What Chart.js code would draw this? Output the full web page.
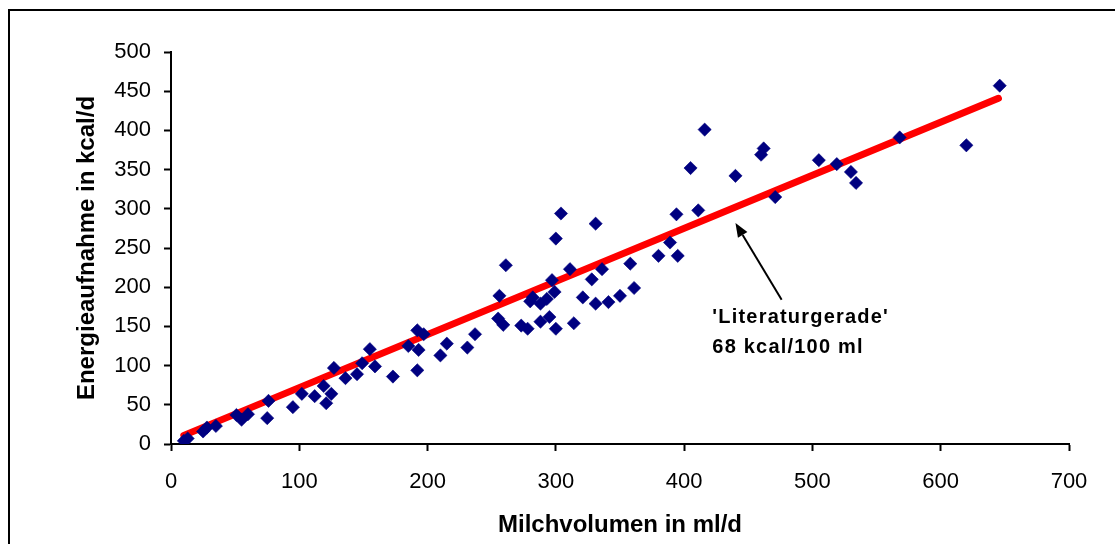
<!DOCTYPE html>
<html>
<head>
<meta charset="utf-8">
<script src="https://cdn.jsdelivr.net/npm/chart.js@4.4.1/dist/chart.umd.min.js"></script>
<style>
  html, body { margin: 0; padding: 0; background: #fff; overflow: hidden; }
  #frame { position: absolute; left: 8px; top: 9px; width: 1200px; height: 600px; border: 2px solid #000; }
  #myChart { position: absolute; left: 0; top: 0; }
</style>
</head>
<body>
<div id="frame"></div>
<canvas id="myChart" width="1115" height="544"></canvas>
<script>
// measured points: milk volume (ml/d) vs energy intake (kcal/d)
let milkVol = [10, 13, 25, 28, 35, 51, 55, 60, 75, 76, 95, 102, 112, 119, 121, 125, 127, 136, 145, 149,
  155, 159, 173, 185, 192, 193, 192, 197, 210, 215, 231, 237, 256, 261, 255, 259, 273, 278, 280, 282,
  288, 293, 288, 295, 300, 297, 299, 300, 304, 311, 314, 321, 328, 331, 331, 336, 341, 350, 358, 361,
  380, 389, 395, 394, 411, 405, 416, 440, 462, 460, 471, 505, 519, 530, 534, 568, 620, 646];
let energy = [4, 7, 16, 21, 23, 37, 31, 38, 33, 55, 47, 64, 61, 74, 52, 64, 97, 84, 89, 103,
  121, 99, 86, 125, 145, 120, 94, 140, 113, 128, 123, 140, 189, 228, 160, 152, 151, 147, 182, 187,
  179, 185, 156, 162, 147, 209, 194, 262, 294, 223, 154, 187, 210, 281, 179, 223, 181, 189, 230, 199,
  240, 257, 240, 293, 298, 352, 401, 342, 377, 369, 315, 362, 357, 347, 333, 391, 381, 457];

// 'Literaturgerade' 68 kcal/100 ml
let lineX = [10, 645];
let lineY = [11, 441];

let xTicks = [0, 100, 200, 300, 400, 500, 600, 700];
let yTicks = [0, 50, 100, 150, 200, 250, 300, 350, 400, 450, 500];

let scatterData = milkVol.map((v, i) => ({ x: v, y: energy[i] }));
let lineData = lineX.map((v, i) => ({ x: v, y: lineY[i] }));

const fontFam = '"Liberation Sans", Arial, sans-serif';

// arrow + label next to the red line
const annotation = {
  id: 'annotation',
  afterDatasetsDraw(chart) {
    const ctx = chart.ctx;
    const xs = chart.scales.x, ys = chart.scales.y;
    const x1 = xs.getPixelForValue(476), y1 = ys.getPixelForValue(184);
    const x2 = xs.getPixelForValue(440), y2 = ys.getPixelForValue(282);
    ctx.save();
    ctx.strokeStyle = '#000';
    ctx.fillStyle = '#000';
    ctx.lineWidth = 2;
    const ang = Math.atan2(y2 - y1, x2 - x1);
    const hl = 14, hw = 5.5;
    const bx = x2 - Math.cos(ang) * hl, by = y2 - Math.sin(ang) * hl;
    ctx.beginPath();
    ctx.moveTo(x1, y1);
    ctx.lineTo(bx, by);
    ctx.stroke();
    ctx.beginPath();
    ctx.moveTo(x2, y2);
    ctx.lineTo(bx + Math.sin(ang) * hw, by - Math.cos(ang) * hw);
    ctx.lineTo(bx - Math.sin(ang) * hw, by + Math.cos(ang) * hw);
    ctx.closePath();
    ctx.fill();

    ctx.font = 'bold 20px ' + fontFam;
    ctx.letterSpacing = '1.2px';
    ctx.textBaseline = 'alphabetic';
    ctx.textAlign = 'left';
    const tx = xs.getPixelForValue(422);
    ctx.fillText("'Literaturgerade'", tx, ys.getPixelForValue(154));
    ctx.fillText('68 kcal/100 ml', tx, ys.getPixelForValue(116));
    ctx.restore();
  }
};

let myChart1 = document.getElementById('myChart').getContext('2d');
let chart1 = new Chart(myChart1, {
  type: 'scatter',
  data: {
    datasets: [{
      label: 'Messwerte',
      data: scatterData,
      pointStyle: 'rectRot',
      pointRadius: 6.6,
      pointHoverRadius: 6.6,
      backgroundColor: '#000080',
      borderColor: '#000080',
      borderWidth: 0.6,
      order: 1
    }, {
      type: 'line',
      label: 'Literaturgerade',
      data: lineData,
      borderColor: '#ff0000',
      borderWidth: 7,
      borderCapStyle: 'round',
      pointRadius: 0,
      fill: false,
      order: 2
    }]
  },
  options: {
    responsive: false,
    animation: false,
    layout: { padding: { left: 0, top: 52, right: 46, bottom: 0 } },
    plugins: {
      legend: { display: false },
      tooltip: { enabled: false }
    },
    scales: {
      x: {
        type: 'linear',
        min: 0,
        max: 700,
        afterBuildTicks: (s) => { s.ticks = xTicks.map(v => ({ value: v })); },
        afterFit: (s) => { s.height = 100; },
        ticks: { color: '#000', font: { family: fontFam, size: 22 }, padding: 18, maxRotation: 0 },
        grid: { drawOnChartArea: false, drawTicks: true, tickLength: 7, tickColor: '#000', tickWidth: 2 },
        border: { display: true, color: '#000', width: 2 },
        title: {
          display: true,
          text: 'Milchvolumen in ml/d',
          color: '#000',
          font: { family: fontFam, size: 24, weight: 'bold' },
          padding: { top: 0, bottom: 4 }
        }
      },
      y: {
        type: 'linear',
        min: 0,
        max: 500,
        afterBuildTicks: (s) => { s.ticks = yTicks.map(v => ({ value: v })); },
        afterFit: (s) => { s.width = 171; },
        ticks: { color: '#000', font: { family: fontFam, size: 22 }, padding: 13 },
        grid: { drawOnChartArea: false, drawTicks: true, tickLength: 7, tickColor: '#000', tickWidth: 2 },
        border: { display: true, color: '#000', width: 2 },
        title: {
          display: true,
          text: 'Energieaufnahme in kcal/d',
          color: '#000',
          font: { family: fontFam, size: 24, weight: 'bold' },
          padding: { top: 73, bottom: 0 }
        }
      }
    }
  },
  plugins: [annotation]
});
</script>
</body>
</html>
